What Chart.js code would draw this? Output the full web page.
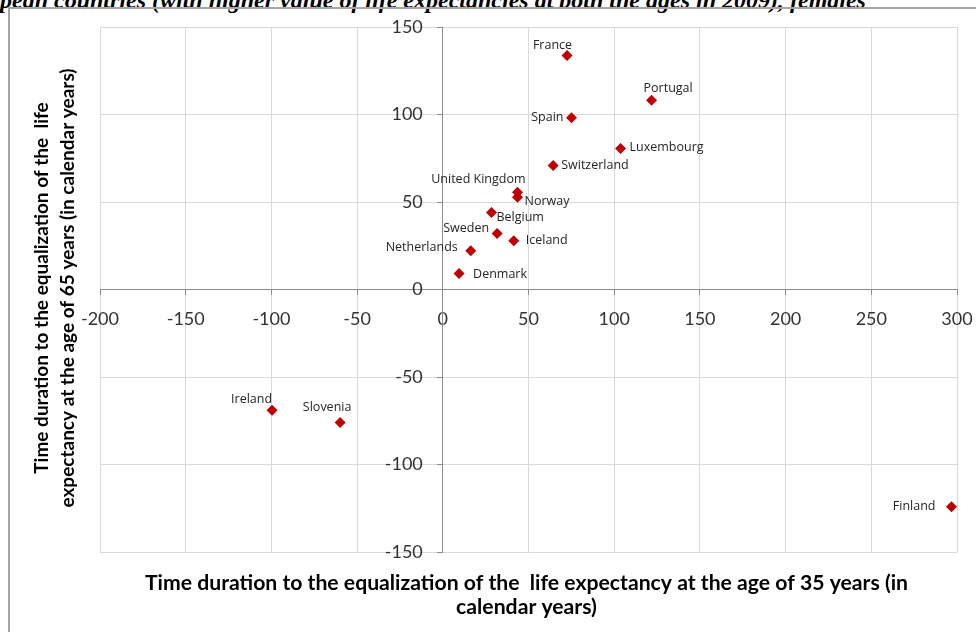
<!DOCTYPE html>
<html>
<head>
<meta charset="utf-8">
<script src="https://cdn.jsdelivr.net/npm/chart.js@4"></script>
<style>
  body { margin: 0; background: #fff; }
  #wrap { position: relative; width: 976px; height: 632px; overflow: hidden; }
  #title {
    position: absolute; left: 0; top: -13px; white-space: nowrap;
    font: italic bold 24px "Liberation Serif", serif; color: #000;
  }
  #frame {
    position: absolute; left: 8px; top: 7px; width: 1000px; height: 700px;
    border-left: 2px solid #a6a6a6; border-top: 2px solid #a6a6a6;
  }
  canvas { position: absolute; left: 0; top: 0; }
</style>
</head>
<body>
<div id="wrap">
  <div id="title">pean countries (with higher value of life expectancies at both the ages in 2009), females</div>
  <div id="frame"></div>
  <canvas id="chart" width="976" height="632"></canvas>
</div>
<script>
// data
const countries = ["France", "Portugal", "Spain", "Luxembourg", "Switzerland", "United Kingdom",
  "Norway", "Belgium", "Sweden", "Iceland", "Netherlands", "Denmark", "Ireland", "Slovenia", "Finland"];
const age35 = [72.5, 121.8, 75.1, 103.7, 64.4, 43.6, 43.6, 28.4, 31.7, 41.4, 16.3, 9.5, -99.6, -59.9, 296.8];
const age65 = [133.7, 108.2, 98.1, 80.6, 70.9, 55.6, 52.7, 44, 32, 27.8, 22.1, 9.1, -69, -76, -124.2];
const xTicks = [-200, -150, -100, -50, 0, 50, 100, 150, 200, 250, 300];
const yTicks = [-150, -100, -50, 0, 50, 100, 150];

const xTitle = ["Time duration to the equalization of the  life expectancy at the age of 35 years (in", "calendar years)"];
const yTitle = ["Time duration to the equalization of the  life", "expectancy at the age of 65 years (in calendar years)"];

// where each point label sits relative to its marker
const labelPlace = {
  "France": [5, -10, "right"], "Portugal": [-8, -12, "left"], "Spain": [-8, 0, "right"],
  "Luxembourg": [9, -1, "left"], "Switzerland": [8, 0, "left"], "United Kingdom": [8, -13, "right"],
  "Norway": [7, 4, "left"], "Belgium": [5, 5, "left"], "Sweden": [-8, -5, "right"],
  "Iceland": [12, 0, "left"], "Netherlands": [-13, -3, "right"], "Denmark": [14, 1, "left"],
  "Ireland": [0, -11, "right"], "Slovenia": [-13, -15, "center"], "Finland": [-16, 0, "right"]
};

const xMin = -200, xMax = 300, yMin = -150, yMax = 150;
const plotLeft = 100, plotRight = 957;
// y tick labels sit ~20px left of the zero line
const yLabelGap = 20 * (xMax - xMin) / (plotRight - plotLeft);

const pointLabels = {
  id: "pointLabels",
  afterDatasetsDraw(chart) {
    const ctx = chart.ctx;
    const meta = chart.getDatasetMeta(0);
    ctx.save();
    ctx.font = "12.5px 'Open Sans'";
    ctx.fillStyle = "#262626";
    ctx.textBaseline = "middle";
    meta.data.forEach((pt, i) => {
      const p = labelPlace[countries[i]];
      ctx.textAlign = p[2];
      ctx.fillText(countries[i], pt.x + p[0], pt.y + p[1]);
    });
    ctx.restore();
  }
};

const axisTitles = {
  id: "axisTitles",
  afterDraw(chart) {
    const ctx = chart.ctx;
    const a = chart.chartArea;
    ctx.save();
    ctx.fillStyle = "#000";
    ctx.textAlign = "center";
    ctx.textBaseline = "middle";
    ctx.font = "bold 21.2px Lato";
    const cx = (a.left + a.right) / 2;
    ctx.fillText(xTitle[0], cx - 2, 583);
    ctx.fillText(xTitle[1], cx - 2, 607);
    ctx.font = "bold 19px Lato";
    ctx.translate(55, 288);
    ctx.rotate(-Math.PI / 2);
    ctx.fillText(yTitle[0], 0, -13);
    ctx.fillText(yTitle[1], 0, 13);
    ctx.restore();
  }
};

const tickFont = { family: "Lato", size: 18 };

new Chart(document.getElementById("chart"), {
  type: "scatter",
  data: {
    datasets: [{
      data: countries.map((c, i) => ({ x: age35[i], y: age65[i] })),
      yAxisID: "y",
      pointStyle: "rectRot",
      pointRadius: 5.5,
      backgroundColor: "#c00000",
      borderColor: "#c00000",
      borderWidth: 0
    }]
  },
  options: {
    responsive: false,
    animation: false,
    layout: { padding: { left: plotLeft, right: 976 - plotRight, top: 27, bottom: 80 } },
    plugins: { legend: { display: false }, tooltip: { enabled: false } },
    scales: {
      x: {
        type: "linear", min: xMin, max: xMax, position: { y: 0 },
        afterBuildTicks: s => { s.ticks = xTicks.map(v => ({ value: v })); },
        // end labels may overhang the plot, as in the original
        afterFit: s => { s.paddingLeft = 0; s.paddingRight = 0; },
        ticks: { color: "#333", font: tickFont, padding: 14, maxRotation: 0 },
        grid: { color: "#d9d9d9", tickColor: "#8c8c8c", tickLength: 5 },
        border: { color: "#8c8c8c" }
      },
      y: {
        type: "linear", min: yMin, max: yMax, position: { x: 0 },
        afterBuildTicks: s => { s.ticks = yTicks.map(v => ({ value: v })); },
        ticks: { display: false },
        grid: { color: "#d9d9d9", tickColor: "#8c8c8c", tickLength: 5 },
        border: { color: "#8c8c8c" }
      },
      yLabels: {
        type: "linear", min: yMin, max: yMax, position: { x: -yLabelGap },
        afterBuildTicks: s => { s.ticks = yTicks.map(v => ({ value: v })); },
        ticks: { color: "#333", font: tickFont },
        grid: { display: false },
        border: { display: false }
      }
    }
  },
  plugins: [pointLabels, axisTitles]
});
</script>
</body>
</html>
